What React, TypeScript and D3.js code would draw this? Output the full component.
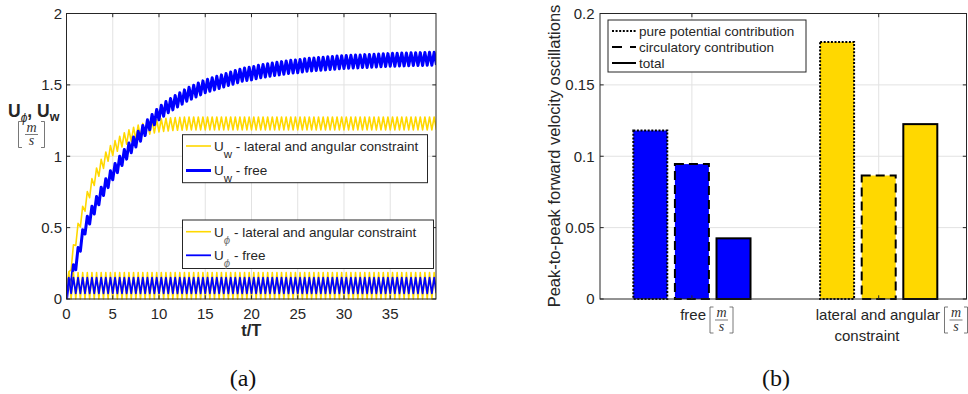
import { useEffect, useRef } from "react"
import * as d3 from "d3"

// ---------- (a) time histories ----------
const timeTicks = [0, 5, 10, 15, 20, 25, 30, 35]
const speedTicks = [0, 0.5, 1, 1.5, 2]

// troughs at t/T = 0, 0.5, 1, ... ; peaks a quarter period later (t/T = 0.25, 0.75, ...)
const uwLateralTroughs = [
  0.0, 0.205, 0.375, 0.505, 0.615, 0.71, 0.795, 0.86, 0.915, 0.965,
  1.005, 1.035, 1.065, 1.085, 1.105, 1.12, 1.135, 1.145, 1.155, 1.163,
  1.17, 1.174, 1.177, 1.18, 1.182, 1.183, 1.184, 1.185, 1.185, 1.185,
  1.185, 1.185, 1.185, 1.185, 1.185, 1.185, 1.185, 1.185, 1.185, 1.185,
  1.185, 1.185, 1.185, 1.185, 1.185, 1.185, 1.185, 1.185, 1.185, 1.185,
  1.185, 1.185, 1.185, 1.185, 1.185, 1.185, 1.185, 1.185, 1.185, 1.185,
  1.185, 1.185, 1.185, 1.185, 1.185, 1.185, 1.185, 1.185, 1.185, 1.185,
  1.185, 1.185, 1.185, 1.185, 1.185, 1.185, 1.185, 1.185, 1.185, 1.185,
  1.185,
]
const uwLateralPeaks = [
  0.19, 0.38, 0.53, 0.65, 0.753, 0.843, 0.918, 0.978, 1.03, 1.075,
  1.11, 1.14, 1.165, 1.185, 1.203, 1.218, 1.23, 1.24, 1.249, 1.257,
  1.262, 1.266, 1.269, 1.271, 1.273, 1.274, 1.275, 1.275, 1.275, 1.275,
  1.275, 1.275, 1.275, 1.275, 1.275, 1.275, 1.275, 1.275, 1.275, 1.275,
  1.275, 1.275, 1.275, 1.275, 1.275, 1.275, 1.275, 1.275, 1.275, 1.275,
  1.275, 1.275, 1.275, 1.275, 1.275, 1.275, 1.275, 1.275, 1.275, 1.275,
  1.275, 1.275, 1.275, 1.275, 1.275, 1.275, 1.275, 1.275, 1.275, 1.275,
  1.275, 1.275, 1.275, 1.275, 1.275, 1.275, 1.275, 1.275, 1.275, 1.275,
]
const uwFreeTroughs = [
  0.0, 0.095, 0.205, 0.335, 0.455, 0.525, 0.595, 0.66, 0.725, 0.78,
  0.835, 0.885, 0.935, 0.98, 1.025, 1.065, 1.105, 1.145, 1.185, 1.22,
  1.255, 1.28, 1.305, 1.325, 1.345, 1.365, 1.385, 1.4, 1.415, 1.43,
  1.445, 1.455, 1.465, 1.475, 1.485, 1.495, 1.505, 1.515, 1.525, 1.53,
  1.535, 1.543, 1.55, 1.555, 1.56, 1.565, 1.57, 1.575, 1.58, 1.583,
  1.585, 1.59, 1.595, 1.598, 1.6, 1.603, 1.605, 1.608, 1.61, 1.613,
  1.615, 1.616, 1.618, 1.619, 1.621, 1.622, 1.624, 1.625, 1.627, 1.628,
  1.63, 1.631, 1.632, 1.633, 1.634, 1.635, 1.635, 1.636, 1.637, 1.638,
  1.639,
]
const uwFreePeaks = [
  0.14, 0.24, 0.36, 0.485, 0.58, 0.65, 0.718, 0.783, 0.843, 0.898,
  0.95, 1.0, 1.048, 1.093, 1.135, 1.175, 1.215, 1.255, 1.293, 1.328,
  1.358, 1.383, 1.405, 1.425, 1.445, 1.465, 1.483, 1.498, 1.513, 1.528,
  1.54, 1.55, 1.56, 1.57, 1.58, 1.59, 1.6, 1.61, 1.618, 1.623,
  1.629, 1.637, 1.643, 1.648, 1.653, 1.658, 1.663, 1.668, 1.672, 1.674,
  1.678, 1.683, 1.687, 1.689, 1.692, 1.694, 1.697, 1.699, 1.702, 1.704,
  1.706, 1.707, 1.709, 1.71, 1.712, 1.713, 1.715, 1.716, 1.718, 1.719,
  1.721, 1.722, 1.723, 1.724, 1.725, 1.725, 1.726, 1.727, 1.728, 1.729,
]
const uphiLateralTroughs = [
  0, 0, 0, 0, 0, 0, 0, 0, 0, 0, 0, 0, 0, 0, 0, 0, 0, 0, 0, 0,
  0, 0, 0, 0, 0, 0, 0, 0, 0, 0, 0, 0, 0, 0, 0, 0, 0, 0, 0, 0,
  0, 0, 0, 0, 0, 0, 0, 0, 0, 0, 0, 0, 0, 0, 0, 0, 0, 0, 0, 0,
  0, 0, 0, 0, 0, 0, 0, 0, 0, 0, 0, 0, 0, 0, 0, 0, 0, 0, 0, 0,
  0,
]
const uphiLateralPeaks = [
  0.185, 0.185, 0.185, 0.185, 0.185, 0.185, 0.185, 0.185, 0.185, 0.185,
  0.185, 0.185, 0.185, 0.185, 0.185, 0.185, 0.185, 0.185, 0.185, 0.185,
  0.185, 0.185, 0.185, 0.185, 0.185, 0.185, 0.185, 0.185, 0.185, 0.185,
  0.185, 0.185, 0.185, 0.185, 0.185, 0.185, 0.185, 0.185, 0.185, 0.185,
  0.185, 0.185, 0.185, 0.185, 0.185, 0.185, 0.185, 0.185, 0.185, 0.185,
  0.185, 0.185, 0.185, 0.185, 0.185, 0.185, 0.185, 0.185, 0.185, 0.185,
  0.185, 0.185, 0.185, 0.185, 0.185, 0.185, 0.185, 0.185, 0.185, 0.185,
  0.185, 0.185, 0.185, 0.185, 0.185, 0.185, 0.185, 0.185, 0.185, 0.185,
]
const uphiFreeTroughs = [
  0.0, 0.04, 0.04, 0.04, 0.04, 0.04, 0.04, 0.04, 0.04, 0.04,
  0.04, 0.04, 0.04, 0.04, 0.04, 0.04, 0.04, 0.04, 0.04, 0.04,
  0.04, 0.04, 0.04, 0.04, 0.04, 0.04, 0.04, 0.04, 0.04, 0.04,
  0.04, 0.04, 0.04, 0.04, 0.04, 0.04, 0.04, 0.04, 0.04, 0.04,
  0.04, 0.04, 0.04, 0.04, 0.04, 0.04, 0.04, 0.04, 0.04, 0.04,
  0.04, 0.04, 0.04, 0.04, 0.04, 0.04, 0.04, 0.04, 0.04, 0.04,
  0.04, 0.04, 0.04, 0.04, 0.04, 0.04, 0.04, 0.04, 0.04, 0.04,
  0.04, 0.04, 0.04, 0.04, 0.04, 0.04, 0.04, 0.04, 0.04, 0.04,
  0.04,
]
const uphiFreePeaks = [
  0.15, 0.15, 0.15, 0.15, 0.15, 0.15, 0.15, 0.15, 0.15, 0.15,
  0.15, 0.15, 0.15, 0.15, 0.15, 0.15, 0.15, 0.15, 0.15, 0.15,
  0.15, 0.15, 0.15, 0.15, 0.15, 0.15, 0.15, 0.15, 0.15, 0.15,
  0.15, 0.15, 0.15, 0.15, 0.15, 0.15, 0.15, 0.15, 0.15, 0.15,
  0.15, 0.15, 0.15, 0.15, 0.15, 0.15, 0.15, 0.15, 0.15, 0.15,
  0.15, 0.15, 0.15, 0.15, 0.15, 0.15, 0.15, 0.15, 0.15, 0.15,
  0.15, 0.15, 0.15, 0.15, 0.15, 0.15, 0.15, 0.15, 0.15, 0.15,
  0.15, 0.15, 0.15, 0.15, 0.15, 0.15, 0.15, 0.15, 0.15, 0.15,
]

// ---------- (b) peak-to-peak bars ----------
const barGroups = ["free", "lateral and angular constraint"]
const barParts = ["pure potential contribution", "circulatory contribution", "total"]
const freeHeights = [0.118, 0.0945, 0.0425]
const constrainedHeights = [0.18, 0.0865, 0.1225]
const barTicks = [0, 0.05, 0.1, 0.15, 0.2]

const sans = "'Liberation Sans', Arial, Helvetica, sans-serif"
const serif = "'Liberation Serif', 'DejaVu Serif', serif"
const ink = "#262626"
const gridColor = "#e2e2e2"
const blue = "#0000ff"
const yellow = "#ffd800"

function zigzag(troughs: number[], peaks: number[]) {
  const pts: [number, number][] = []
  troughs.forEach((v, k) => {
    pts.push([k * 0.5, v])
    if (k < peaks.length) pts.push([k * 0.5 + 0.25, peaks[k]])
  })
  return pts
}

// LaTeX style \left[\frac{m}{s}\right]
function unitFraction(g: any, cx: number, top: number, h: number, half = 11.5) {
  const bracket = (x0: number, dir: number) =>
    g.append("path")
      .attr("d", `M${x0 + dir * 3.5},${top} H${x0} V${top + h} H${x0 + dir * 3.5}`)
      .attr("fill", "none")
      .attr("stroke", "#555")
      .attr("stroke-width", 0.8)
  bracket(cx - half, 1)
  bracket(cx + half, -1)
  g.append("text")
    .attr("x", cx)
    .attr("y", top + h * 0.4)
    .attr("text-anchor", "middle")
    .style("font-family", serif)
    .style("font-style", "italic")
    .style("font-size", "14px")
    .style("fill", "#333")
    .text("m")
  g.append("line")
    .attr("x1", cx - 6.5)
    .attr("x2", cx + 6.5)
    .attr("y1", top + h * 0.5)
    .attr("y2", top + h * 0.5)
    .attr("stroke", "#444")
    .attr("stroke-width", 0.7)
  g.append("text")
    .attr("x", cx)
    .attr("y", top + h * 0.92)
    .attr("text-anchor", "middle")
    .style("font-family", serif)
    .style("font-style", "italic")
    .style("font-size", "14px")
    .style("fill", "#333")
    .text("s")
}

export default function App() {
  const svgRef = useRef<SVGSVGElement>(null)

  useEffect(() => {
    if (!svgRef.current) return
    const svg = d3.select(svgRef.current)
    svg.selectAll("*").remove()

    // ================= panel (a) =================
    const a = { left: 66.5, right: 436, top: 13.5, bottom: 299 }
    const x = d3.scaleLinear().domain([0, 39.95]).range([a.left, a.right])
    const y = d3.scaleLinear().domain([0, 2]).range([a.bottom, a.top])

    const ga = svg.append("g")
    ga.append("clipPath")
      .attr("id", "clip-a")
      .append("rect")
      .attr("x", a.left)
      .attr("y", a.top)
      .attr("width", a.right - a.left)
      .attr("height", a.bottom - a.top + 1)

    ga.selectAll(".vgrid")
      .data(timeTicks.slice(1))
      .enter()
      .append("line")
      .attr("x1", (d) => x(d))
      .attr("x2", (d) => x(d))
      .attr("y1", a.top)
      .attr("y2", a.bottom)
      .attr("stroke", gridColor)
    ga.selectAll(".hgrid")
      .data(speedTicks.slice(1, -1))
      .enter()
      .append("line")
      .attr("x1", a.left)
      .attr("x2", a.right)
      .attr("y1", (d) => y(d))
      .attr("y2", (d) => y(d))
      .attr("stroke", gridColor)

    const line = d3
      .line<[number, number]>()
      .x((d) => x(d[0]))
      .y((d) => y(d[1]))

    const series = [
      { pts: zigzag(uwLateralTroughs, uwLateralPeaks), color: yellow, w: 1.6 },
      { pts: zigzag(uwFreeTroughs, uwFreePeaks), color: blue, w: 3 },
      { pts: zigzag(uphiLateralTroughs, uphiLateralPeaks), color: yellow, w: 1.6 },
      { pts: zigzag(uphiFreeTroughs, uphiFreePeaks), color: blue, w: 1.8 },
    ]
    const lines = ga.append("g").attr("clip-path", "url(#clip-a)")
    series.forEach((s) => {
      lines
        .append("path")
        .datum(s.pts)
        .attr("fill", "none")
        .attr("stroke", s.color)
        .attr("stroke-width", s.w)
        .attr("stroke-linejoin", "round")
        .attr("d", line)
    })

    // box + ticks
    ga.append("rect")
      .attr("x", a.left)
      .attr("y", a.top)
      .attr("width", a.right - a.left)
      .attr("height", a.bottom - a.top)
      .attr("fill", "none")
      .attr("stroke", ink)
      .attr("stroke-width", 1)
    const tl = 3.7
    timeTicks.forEach((t) => {
      ga.append("line").attr("x1", x(t)).attr("x2", x(t)).attr("y1", a.bottom).attr("y2", a.bottom - tl).attr("stroke", ink)
      ga.append("line").attr("x1", x(t)).attr("x2", x(t)).attr("y1", a.top).attr("y2", a.top + tl).attr("stroke", ink)
    })
    speedTicks.forEach((v) => {
      ga.append("line").attr("x1", a.left).attr("x2", a.left + tl).attr("y1", y(v)).attr("y2", y(v)).attr("stroke", ink)
      ga.append("line").attr("x1", a.right).attr("x2", a.right - tl).attr("y1", y(v)).attr("y2", y(v)).attr("stroke", ink)
    })

    ga.selectAll(".xt")
      .data(timeTicks)
      .enter()
      .append("text")
      .attr("x", (d) => x(d))
      .attr("y", 318.5)
      .attr("text-anchor", "middle")
      .style("font-family", sans)
      .style("font-size", "15px")
      .style("fill", ink)
      .text((d) => String(d))
    ga.selectAll(".yt")
      .data(speedTicks)
      .enter()
      .append("text")
      .attr("x", 62)
      .attr("y", (d) => y(d) + 5.3)
      .attr("text-anchor", "end")
      .style("font-family", sans)
      .style("font-size", "15px")
      .style("fill", ink)
      .text((d) => String(d))

    ga.append("text")
      .attr("x", (a.left + a.right) / 2)
      .attr("y", 336)
      .attr("text-anchor", "middle")
      .style("font-family", sans)
      .style("font-size", "16.5px")
      .style("font-weight", "bold")
      .style("fill", ink)
      .text("t/T")

    const ylab = ga
      .append("text")
      .attr("x", 8)
      .attr("y", 116.5)
      .style("font-family", sans)
      .style("font-size", "17.5px")
      .style("font-weight", "bold")
      .style("fill", ink)
    ylab.append("tspan").text("U")
    ylab.append("tspan").attr("dy", 5).style("font-size", "12px").style("font-style", "italic").style("font-weight", "normal").text("ϕ")
    ylab.append("tspan").attr("dy", -5).text(", U")
    ylab.append("tspan").attr("dy", 4).style("font-size", "12.5px").text("w")
    unitFraction(ga, 31.5, 121.5, 26, 13)

    // legends
    const legendA = [
      { box: [182.5, 134.7, 245, 48], rows: [
        { y: 146, text: 150.7, sub: "w", label: " - lateral and angular constraint", color: yellow, w: 1.6 },
        { y: 170.5, text: 174.5, sub: "w", label: " - free", color: blue, w: 3 },
      ] },
      { box: [182.5, 220, 251, 48.5], rows: [
        { y: 231.7, text: 237.3, sub: "ϕ", label: " - lateral and angular constraint", color: yellow, w: 1.6 },
        { y: 255.3, text: 260, sub: "ϕ", label: " - free", color: blue, w: 1.8 },
      ] },
    ]
    legendA.forEach((lg) => {
      ga.append("rect")
        .attr("x", lg.box[0])
        .attr("y", lg.box[1])
        .attr("width", lg.box[2])
        .attr("height", lg.box[3])
        .attr("fill", "white")
        .attr("stroke", ink)
        .attr("stroke-width", 1)
      lg.rows.forEach((r) => {
        ga.append("line")
          .attr("x1", 186)
          .attr("x2", 211)
          .attr("y1", r.y)
          .attr("y2", r.y)
          .attr("stroke", r.color)
          .attr("stroke-width", r.w)
        const t = ga
          .append("text")
          .attr("x", 214)
          .attr("y", r.text)
          .style("font-family", sans)
          .style("font-size", "13.5px")
          .style("fill", ink)
        t.append("tspan").text("U")
        t.append("tspan")
          .attr("dy", 7)
          .style("font-size", "11.5px")
          .style("font-style", r.sub === "ϕ" ? "italic" : "normal")
          .style("fill", r.sub === "ϕ" ? "#777" : ink)
          .text(r.sub)
        t.append("tspan").attr("dy", -7).text(r.label)
      })
    })

    // ================= panel (b) =================
    const b = { left: 600, right: 966.5, top: 13.5, bottom: 299 }
    const xb = d3.scaleLinear().domain([0.508, 2.47]).range([b.left, b.right])
    const yb = d3.scaleLinear().domain([0, 0.2]).range([b.bottom, b.top])
    const sub = d3.scaleBand<string>().domain(barParts).range([-58.6, 58.6]).paddingInner(0.183)
    const gb = svg.append("g")

    gb.selectAll(".hgrid")
      .data(barTicks.slice(1, -1))
      .enter()
      .append("line")
      .attr("x1", b.left)
      .attr("x2", b.right)
      .attr("y1", (d) => yb(d))
      .attr("y2", (d) => yb(d))
      .attr("stroke", gridColor)
    gb.selectAll(".vgrid")
      .data(barGroups)
      .enter()
      .append("line")
      .attr("x1", (_, i) => xb(i + 1))
      .attr("x2", (_, i) => xb(i + 1))
      .attr("y1", b.top)
      .attr("y2", b.bottom)
      .attr("stroke", gridColor)

    const dashes = ["2,1.6", "9,5", null]
    const bars = barGroups.flatMap((grp, gi) => {
      const vals = gi === 0 ? freeHeights : constrainedHeights
      return barParts.map((p, pi) => ({ gi, pi, part: p, v: vals[pi], color: gi === 0 ? blue : yellow }))
    })
    gb.selectAll(".bar")
      .data(bars)
      .enter()
      .append("rect")
      .attr("x", (d) => xb(d.gi + 1) + (sub(d.part) as number))
      .attr("y", (d) => yb(d.v))
      .attr("width", sub.bandwidth())
      .attr("height", (d) => yb(0) - yb(d.v))
      .attr("fill", (d) => d.color)
      .attr("stroke", "#000")
      .attr("stroke-width", 2)
      .attr("stroke-dasharray", (d) => dashes[d.pi])

    gb.append("rect")
      .attr("x", b.left)
      .attr("y", b.top)
      .attr("width", b.right - b.left)
      .attr("height", b.bottom - b.top)
      .attr("fill", "none")
      .attr("stroke", ink)
      .attr("stroke-width", 1)
    barTicks.forEach((v) => {
      gb.append("line").attr("x1", b.left).attr("x2", b.left + tl).attr("y1", yb(v)).attr("y2", yb(v)).attr("stroke", ink)
      gb.append("line").attr("x1", b.right).attr("x2", b.right - tl).attr("y1", yb(v)).attr("y2", yb(v)).attr("stroke", ink)
    })
    barGroups.forEach((_, i) => {
      gb.append("line").attr("x1", xb(i + 1)).attr("x2", xb(i + 1)).attr("y1", b.top).attr("y2", b.top + tl).attr("stroke", ink)
      gb.append("line").attr("x1", xb(i + 1)).attr("x2", xb(i + 1)).attr("y1", b.bottom).attr("y2", b.bottom - tl).attr("stroke", ink)
    })
    gb.selectAll(".yt")
      .data(barTicks)
      .enter()
      .append("text")
      .attr("x", 594.5)
      .attr("y", (d) => yb(d) + 5.3)
      .attr("text-anchor", "end")
      .style("font-family", sans)
      .style("font-size", "15px")
      .style("fill", ink)
      .text((d) => String(d))

    gb.append("text")
      .attr("transform", `translate(560,156) rotate(-90)`)
      .attr("text-anchor", "middle")
      .style("font-family", sans)
      .style("font-size", "16.5px")
      .style("fill", ink)
      .text("Peak-to-peak forward velocity oscillations")

    // category labels
    gb.append("text")
      .attr("x", 706)
      .attr("y", 320)
      .attr("text-anchor", "end")
      .style("font-family", sans)
      .style("font-size", "15px")
      .style("fill", ink)
      .text(barGroups[0])
    unitFraction(gb, 721.5, 307, 26)
    gb.append("text")
      .attr("x", 940)
      .attr("y", 320)
      .attr("text-anchor", "end")
      .style("font-family", sans)
      .style("font-size", "15px")
      .style("fill", ink)
      .text("lateral and angular")
    gb.append("text")
      .attr("x", 867)
      .attr("y", 341)
      .attr("text-anchor", "middle")
      .style("font-family", sans)
      .style("font-size", "15px")
      .style("fill", ink)
      .text("constraint")
    unitFraction(gb, 956, 307, 26)

    // legend
    gb.append("rect")
      .attr("x", 608)
      .attr("y", 20)
      .attr("width", 198)
      .attr("height", 52)
      .attr("fill", "white")
      .attr("stroke", ink)
      .attr("stroke-width", 1)
    const legRows = [31, 47, 63]
    barParts.forEach((p, i) => {
      gb.append("line")
        .attr("x1", 612)
        .attr("x2", 636)
        .attr("y1", legRows[i])
        .attr("y2", legRows[i])
        .attr("stroke", "#000")
        .attr("stroke-width", 2)
        .attr("stroke-dasharray", i === 0 ? "2,1.6" : i === 1 ? "10,8" : null)
      gb.append("text")
        .attr("x", 639)
        .attr("y", legRows[i] + 4.8)
        .style("font-family", sans)
        .style("font-size", "13.5px")
        .style("fill", ink)
        .text(p)
    })

    // captions
    svg.append("text")
      .attr("x", 243)
      .attr("y", 386)
      .attr("text-anchor", "middle")
      .style("font-family", serif)
      .style("font-size", "24px")
      .style("fill", "#111")
      .text("(a)")
    svg.append("text")
      .attr("x", 776)
      .attr("y", 386)
      .attr("text-anchor", "middle")
      .style("font-family", serif)
      .style("font-size", "24px")
      .style("fill", "#111")
      .text("(b)")
  }, [])

  return (
    <div style={{ position: "absolute", left: 0, top: 0 }}>
      <svg ref={svgRef} width={968} height={394} style={{ display: "block", background: "white" }}></svg>
    </div>
  )
}
